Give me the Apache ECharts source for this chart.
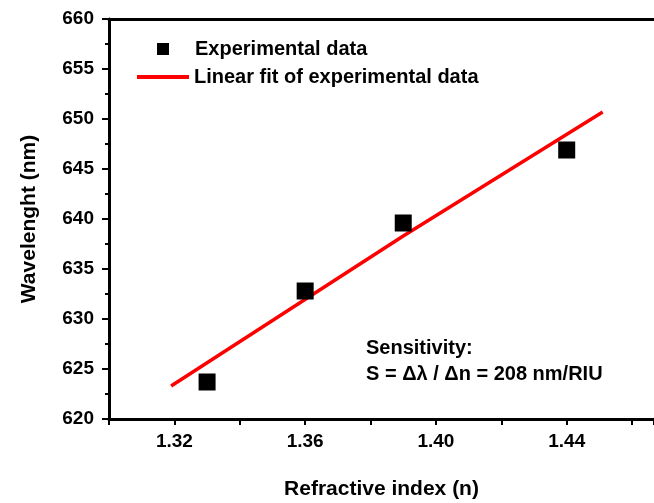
<!DOCTYPE html>
<html>
<head>
<meta charset="utf-8">
<script src="https://cdn.jsdelivr.net/npm/echarts@6/dist/echarts.min.js"></script>
<style>
    html, body { margin: 0; padding: 0; background: #fff; }
    #main { width: 654px; height: 503px; }
</style>
</head>
<body>
<div id="main"></div>
<script>
// data
const refIndex = [1.33, 1.36, 1.39, 1.44]
const wavelength = [623.7, 632.8, 639.6, 646.9]
const fitX = [1.319, 1.39, 1.451]
const fitY = [623.3, 638.3, 650.7]
const xLabels = ['1.32', '1.36', '1.40', '1.44']

const font = 'Liberation Sans'
const black = '#000'

const chart = echarts.init(document.getElementById('main'), null, { renderer: 'canvas' })

const expData = refIndex.map(function (x, i) { return [x, wavelength[i]] })
const fitData = fitX.map(function (x, i) { return [x, fitY[i]] })

const option = {
    backgroundColor: '#fff',
    animation: false,
    grid: { left: 109, top: 19, right: 0, bottom: 84, outerBoundsMode: 'none', containLabel: false },
    legend: [
        {
            data: [{ name: 'Experimental data', icon: 'rect' }],
            left: 157, top: 39, padding: 0,
            itemWidth: 12, itemHeight: 12,
            textStyle: { fontFamily: font, fontWeight: 'bold', fontSize: 20, color: black, lineHeight: 20, padding: [0, 0, 0, 21] }
        },
        {
            data: [{ name: 'Linear fit of experimental data', icon: 'rect' }],
            left: 137, top: 67, padding: 0,
            itemWidth: 52, itemHeight: 4,
            textStyle: { fontFamily: font, fontWeight: 'bold', fontSize: 20, color: black, lineHeight: 20 }
        }
    ],
    xAxis: [
        {
            type: 'value',
            min: 1.30, max: 1.4667, interval: 0.02,
            name: 'Refractive index (n)',
            nameLocation: 'middle', nameGap: 60,
            nameTextStyle: { fontFamily: font, fontWeight: 'bold', fontSize: 21, color: black },
            axisLine: { lineStyle: { color: black, width: 3 } },
            axisTick: { inside: false, length: 6, lineStyle: { color: black, width: 2 } },
            axisLabel: {
                margin: 13,
                fontFamily: font, fontWeight: 'bold', fontSize: 19, color: black,
                formatter: function (v) {
                    const s = v.toFixed(2)
                    return xLabels.indexOf(s) >= 0 ? s : ''
                }
            },
            splitLine: { show: false }
        },
        {
            type: 'value', position: 'top',
            min: 1.30, max: 1.4667,
            axisLine: { show: true, lineStyle: { color: black, width: 3 } },
            axisTick: { show: false }, axisLabel: { show: false }, splitLine: { show: false }
        }
    ],
    yAxis: {
        type: 'value',
        min: 620, max: 660, interval: 5,
        name: 'Wavelenght (nm)',
        nameLocation: 'middle', nameGap: 69,
        nameTextStyle: { fontFamily: font, fontWeight: 'bold', fontSize: 21, color: black },
        axisLine: { show: true, lineStyle: { color: black, width: 3 } },
        axisTick: { length: 7, lineStyle: { color: black, width: 2 } },
        minorTick: { show: true, splitNumber: 2, length: 4, lineStyle: { color: black, width: 2 } },
        axisLabel: { margin: 15, fontFamily: font, fontWeight: 'bold', fontSize: 19, color: black },
        splitLine: { show: false }
    },
    graphic: [
        {
            type: 'text', left: 366, top: 338,
            style: { text: 'Sensitivity:', font: 'bold 20px "Liberation Sans"', fill: black }
        },
        {
            type: 'text', left: 366, top: 364,
            style: { text: 'S = \u0394\u03bb / \u0394n = 208 nm/RIU', font: 'bold 20px "Liberation Sans"', fill: black }
        }
    ],
    series: [
        {
            name: 'Linear fit of experimental data',
            type: 'line',
            data: fitData,
            symbol: 'none',
            color: '#ff0000',
            lineStyle: { color: '#ff0000', width: 3.5 },
            z: 2
        },
        {
            name: 'Experimental data',
            type: 'scatter',
            data: expData,
            symbol: 'rect',
            symbolSize: 17,
            itemStyle: { color: black, opacity: 1 },
            z: 3
        }
    ]
}

chart.setOption(option)
window.addEventListener('resize', chart.resize)
</script>
</body>
</html>
